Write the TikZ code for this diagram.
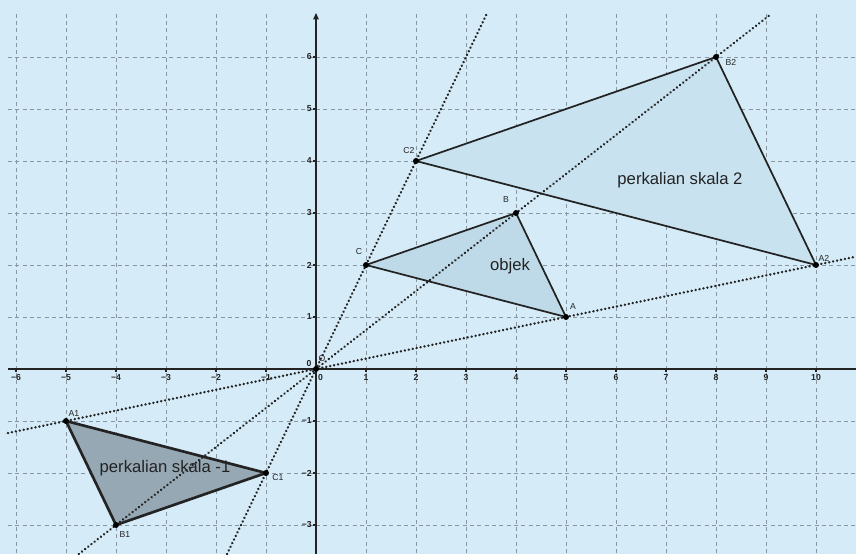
\documentclass[tikz,border=0pt]{standalone}
\usepackage{fontspec}
\setmainfont{Liberation Sans}
\usetikzlibrary{arrows.meta}
\definecolor{bg}{RGB}{213,236,248}
\definecolor{gridc}{RGB}{135,150,160}
\definecolor{edge}{RGB}{35,35,35}
\definecolor{fillobj}{RGB}{190,217,232}
\definecolor{filltwo}{RGB}{200,226,240}
\definecolor{fillneg}{RGB}{150,168,180}
\tikzset{
  gridline/.style={gridc, line width=0.7pt, dash pattern=on 3pt off 2.5pt},
  axisline/.style={edge, line width=1.4pt},
  ray/.style={edge, line width=2pt, dash pattern=on 0.01pt off 3pt, line cap=round},
  tri/.style={edge, line width=1.3pt, line join=round},
  pt/.style={circle, fill=black, inner sep=0pt, minimum size=4.5pt},
  ptlab/.style={font=\fontsize{6.5}{7}\selectfont, text=edge, inner sep=1pt},
  ticklab/.style={font=\fontsize{6.5}{7}\selectfont\bfseries, text=edge, inner sep=0pt},
  biglab/.style={font=\fontsize{12.5}{14}\selectfont, text=edge}
}
\begin{document}
\begin{tikzpicture}[x=37.5pt, y=39pt]
\useasboundingbox (-6.32,-3.558) rectangle (10.8,7.096);
\fill[bg] (-6.32,-3.558) rectangle (10.8,7.096);
% grid
\foreach \x in {-6,...,10} \draw[gridline] (\x,6.83) -- (\x,-3.558);
\foreach \y in {-3,...,6} \draw[gridline] (-6.16,\y) -- (10.8,\y);
% triangles
\coordinate (A) at (5,1); \coordinate (B) at (4,3); \coordinate (C) at (1,2);
\coordinate (A2) at (10,2); \coordinate (B2) at (8,6); \coordinate (C2) at (2,4);
\coordinate (A1) at (-5,-1); \coordinate (B1) at (-4,-3); \coordinate (C1) at (-1,-2);
\coordinate (O) at (0,0);
\fill[filltwo] (A2) -- (B2) -- (C2) -- cycle;
\fill[fillobj] (A) -- (B) -- (C) -- cycle;
\fill[fillneg] (A1) -- (B1) -- (C1) -- cycle;
% axes
\draw[axisline] (-6.16,0) -- (10.8,0);
\draw[axisline, -{Triangle[length=5pt,width=4pt]}] (0,-3.558) -- (0,6.85);
\foreach \x/\l in {-6/6,-5/5,-4/4,-3/3,-2/2,-1/1} {\draw[edge, line width=0.8pt] (\x,0) -- (\x,-0.05); \node[ticklab] at (\x,-0.17) {−\l};}
\foreach \x in {1,...,10} {\draw[edge, line width=0.8pt] (\x,0) -- (\x,-0.05); \node[ticklab] at (\x,-0.17) {\x};}
\foreach \y in {1,...,6} {\draw[edge, line width=0.8pt] (0,\y) -- (-0.06,\y); \node[ticklab, anchor=east] at (-0.08,\y) {\y};}
\foreach \y/\l in {-3/3,-2/2,-1/1} {\draw[edge, line width=0.8pt] (0,\y) -- (-0.06,\y); \node[ticklab, anchor=east] at (-0.08,\y) {−\l};}
\node[ticklab] at (0.09,-0.17) {0};
\node[ticklab] at (-0.14,0.11) {0};
% rays
\coordinate (ra1) at (-6.16,-1.232); \coordinate (ra2) at (10.8,2.16);
\coordinate (rb1) at (-4.744,-3.558); \coordinate (rb2) at (9.08,6.81);
\coordinate (rc1) at (-1.779,-3.558); \coordinate (rc2) at (3.415,6.83);
\draw[ray] (ra1) -- (ra2);
\draw[ray] (rb1) -- (rb2);
\draw[ray] (rc1) -- (rc2);
% triangle edges
\draw[tri] (A2) -- (B2) -- (C2) -- cycle;
\draw[tri] (A) -- (B) -- (C) -- cycle;
\draw[tri, line width=2pt] (A1) -- (B1) -- (C1) -- cycle;
% points
\foreach \p in {A,B,C,A1,B1,C1,A2,B2,C2,O} \node[pt] at (\p) {};
% point labels
\node[ptlab] at (5.14,1.2) {A};
\node[ptlab] at (3.8,3.26) {B};
\node[ptlab] at (0.86,2.25) {C};
\node[ptlab] at (1.86,4.2) {C2};
\node[ptlab] at (8.3,5.9) {B2};
\node[ptlab] at (10.16,2.12) {A2};
\node[ptlab] at (-4.84,-0.85) {A1};
\node[ptlab] at (-3.82,-3.18) {B1};
\node[ptlab] at (-0.76,-2.08) {C1};
\node[ptlab] at (0.12,0.2) {O};
% big labels
\node[biglab] at (3.88,1.98) {objek};
\node[biglab] at (7.28,3.63) {perkalian skala 2};
\node[biglab] at (-3.02,-1.9) {perkalian skala -1};
\end{tikzpicture}
\end{document}
